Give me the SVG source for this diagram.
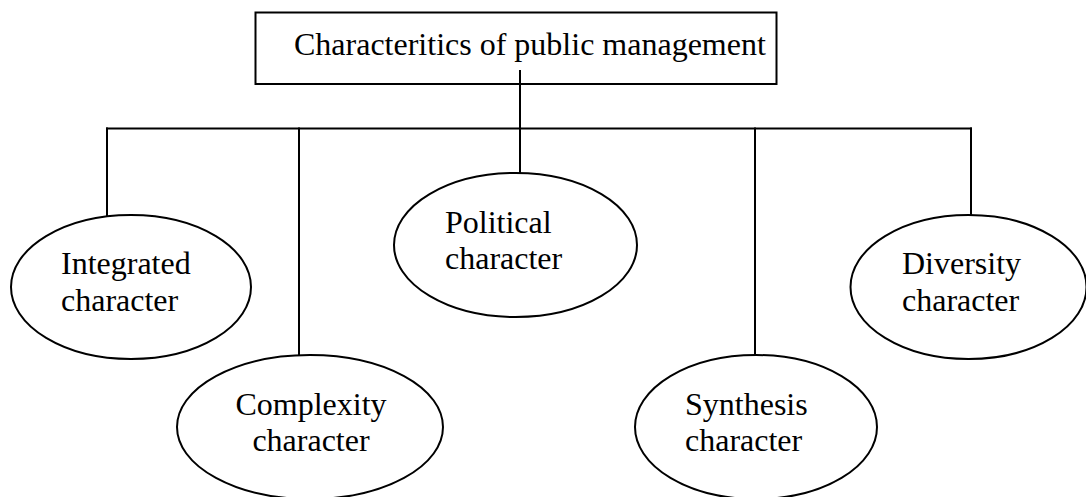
<svg xmlns="http://www.w3.org/2000/svg" width="1086" height="497" viewBox="0 0 1086 497">
<style>
.t{font-family:"Liberation Serif","Times New Roman",serif;font-size:32px;fill:#000}
.n{fill:#fff;stroke:#000;stroke-width:2}
.c{stroke:#000;stroke-width:2;fill:none}
</style>
<rect width="1086" height="497" fill="#fff"/>
<g id="root">
<rect class="n" x="255.5" y="12.5" width="521" height="71.5"/>
<text class="t" x="294" y="55">Characteritics of public management</text>
</g>
<g id="connectors">
<line class="c" x1="520" y1="70" x2="520" y2="128.5"/>
<line class="c" x1="106" y1="128.5" x2="972" y2="128.5"/>
<line class="c" x1="107" y1="127.5" x2="107" y2="216"/>
<line class="c" x1="299" y1="127.5" x2="299" y2="368"/>
<line class="c" x1="520" y1="127.5" x2="520" y2="173"/>
<line class="c" x1="755" y1="127.5" x2="755" y2="368"/>
<line class="c" x1="971" y1="127.5" x2="971" y2="216"/>
</g>
<g id="integrated">
<ellipse class="n" cx="131" cy="287" rx="120" ry="72"/>
<text class="t" x="61" y="274">Integrated</text>
<text class="t" x="61" y="310.5">character</text>
</g>
<g id="complexity">
<ellipse class="n" cx="310" cy="427" rx="133" ry="72"/>
<text class="t" x="311" y="414.5" text-anchor="middle">Complexity</text>
<text class="t" x="311" y="450.5" text-anchor="middle">character</text>
</g>
<g id="political">
<ellipse class="n" cx="515.5" cy="245" rx="121.5" ry="72"/>
<text class="t" x="445" y="232.5">Political</text>
<text class="t" x="445" y="268.5">character</text>
</g>
<g id="synthesis">
<ellipse class="n" cx="756" cy="427" rx="121" ry="72"/>
<text class="t" x="685" y="414.5">Synthesis</text>
<text class="t" x="685" y="450.5">character</text>
</g>
<g id="diversity">
<ellipse class="n" cx="968.5" cy="287" rx="118" ry="72"/>
<text class="t" x="902" y="274">Diversity</text>
<text class="t" x="902" y="310.5">character</text>
</g>
</svg>
